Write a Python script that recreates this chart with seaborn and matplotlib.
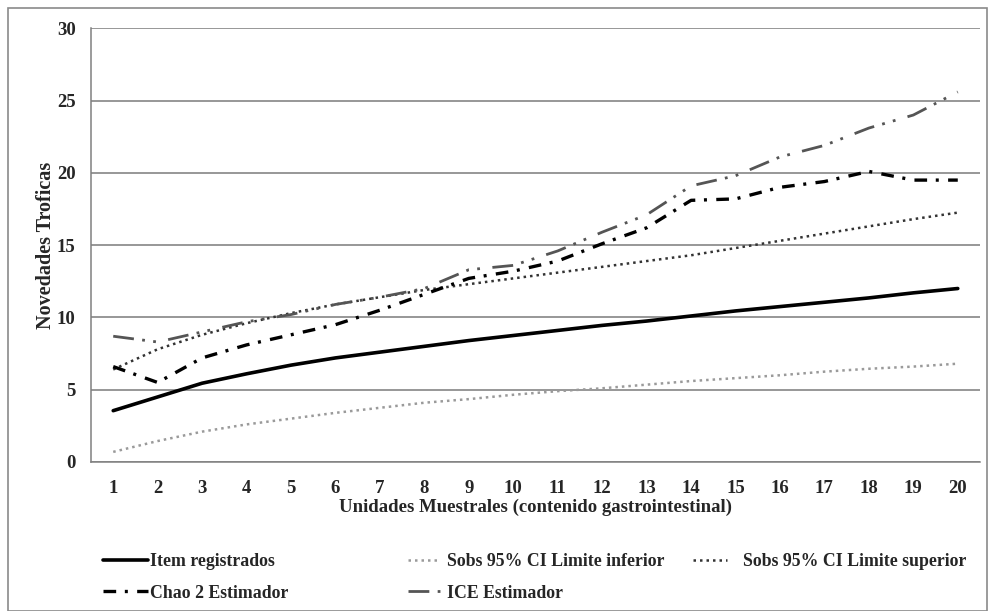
import numpy as np
import pandas as pd
import matplotlib
matplotlib.use("Agg")
import matplotlib.pyplot as plt
import seaborn as sns
from matplotlib.patches import Rectangle

# data
unidades = list(range(1, 21))
item_registrados = [3.55, 4.5, 5.45, 6.1, 6.7, 7.2, 7.6, 8.0, 8.4, 8.75,
                    9.1, 9.45, 9.75, 10.1, 10.45, 10.75, 11.05, 11.35, 11.7, 12.0]
sobs_inferior = [0.7, 1.45, 2.1, 2.6, 3.0, 3.4, 3.75, 4.1, 4.35, 4.65,
                 4.9, 5.1, 5.35, 5.6, 5.8, 6.0, 6.25, 6.45, 6.6, 6.8]
sobs_superior = [6.4, 7.8, 8.8, 9.6, 10.3, 10.9, 11.4, 11.9, 12.3, 12.7,
                 13.1, 13.5, 13.9, 14.3, 14.8, 15.3, 15.8, 16.3, 16.8, 17.25]
chao2 = [6.6, 5.5, 7.2, 8.1, 8.8, 9.5, 10.5, 11.6, 12.7, 13.2,
         13.9, 15.1, 16.2, 18.1, 18.2, 19.0, 19.4, 20.1, 19.5, 19.5]
ice = [8.7, 8.3, 9.0, 9.7, 10.2, 10.9, 11.4, 12.0, 13.3, 13.6,
       14.6, 15.9, 17.1, 19.1, 19.8, 21.1, 21.9, 23.1, 24.0, 25.6]

labels = ["Item registrados", "Sobs 95% CI Limite inferior", "Sobs 95% CI Limite superior",
          "Chao 2 Estimador", "ICE Estimador"]

df = pd.DataFrame({"unidad": unidades, labels[0]: item_registrados, labels[1]: sobs_inferior,
                   labels[2]: sobs_superior, labels[3]: chao2, labels[4]: ice})

sns.set_style("white")
plt.rcParams["font.family"] = ["Liberation Serif", "DejaVu Serif"]
plt.rcParams["font.weight"] = "bold"

fig = plt.figure(figsize=(9.88, 6.11), dpi=100)
ax = fig.add_axes([91 / 988, 1 - 462 / 611, (980 - 91) / 988, (462 - 28.3) / 611])

# styles for each series
styles = {
    labels[0]: dict(color="black", lw=2.6, ls="-"),
    labels[1]: dict(color="#9a9a9a", lw=1.8, ls=(0, (1, 1.6))),
    labels[2]: dict(color="#333333", lw=1.8, ls=(0, (1, 1.6))),
    labels[3]: dict(color="black", lw=2.4, ls=(0, (3.8, 2.6, 0.9, 2.8))),
    labels[4]: dict(color="#555555", lw=2.0, ls=(0, (7.5, 3.0, 1.0, 3.0, 1.0, 4.5))),
}

handles = {}
for lab in labels:
    st = styles[lab]
    sns.lineplot(data=df, x="unidad", y=lab, ax=ax, color=st["color"], linewidth=st["lw"],
                 linestyle=st["ls"], label=lab, legend=False)
    handles[lab] = ax.lines[-1]

ax.set_xlim(0.5, 20.5)
ax.set_ylim(0, 30)
ax.set_yticks(range(0, 31, 5))
ax.set_xticks(unidades)
ax.set_xticks(np.arange(0.5, 21, 1), minor=True)
ax.tick_params(axis="x", which="major", length=0, pad=13, labelsize=13.5)
ax.tick_params(axis="x", which="minor", length=4, direction="out", color="#808080", width=1)
ax.tick_params(axis="y", which="major", length=6, direction="out", color="#808080", width=1,
               labelsize=13.5, pad=5)
for t in ax.get_xticklabels() + ax.get_yticklabels():
    t.set_fontweight("bold")

ax.grid(axis="y", color="#7a7a7a", linewidth=1.1)
ax.set_axisbelow(True)
for side in ["top", "right"]:
    ax.spines[side].set_visible(False)
for side in ["left", "bottom"]:
    ax.spines[side].set_color("#808080")
    ax.spines[side].set_linewidth(1.1)

ax.set_xlabel("Unidades Muestrales (contenido gastrointestinal)", fontsize=13.5,
              fontweight="bold", labelpad=1)
ax.set_ylabel("Novedades Troficas", fontsize=14.5, fontweight="bold", labelpad=1)

# legend in three columns below the axes
def col_legend(labs, x, hlen, tpad):
    fig.legend([handles[l] for l in labs], labs, loc="upper left",
               bbox_to_anchor=(x / 988, 1 - 553 / 611), frameon=False,
               prop={"weight": "bold", "size": 12.8}, handlelength=hlen,
               handletextpad=tpad, labelspacing=0.82, borderpad=0, borderaxespad=0)

col_legend([labels[0], labels[3]], 103, 2.55, 0.12)
col_legend([labels[1], labels[4]], 408, 1.8, 0.4)
col_legend([labels[2]], 693, 1.9, 0.9)

# outer frame of the figure
fig.patches.append(Rectangle((8 / 988, 0), 979 / 988, 1 - 8 / 611, transform=fig.transFigure,
                             fill=False, edgecolor="#8a8a8a", linewidth=1.2))

fig.savefig("out.png", dpi=100)
